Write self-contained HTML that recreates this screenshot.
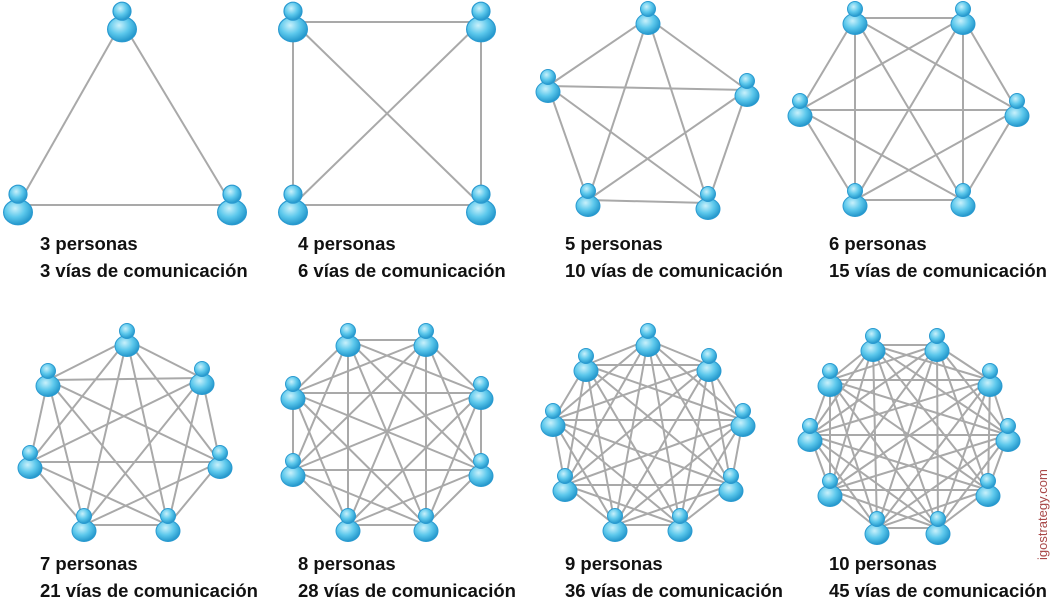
<!DOCTYPE html>
<html><head><meta charset="utf-8"><style>
html,body{margin:0;padding:0;background:#fff;width:1056px;height:604px;overflow:hidden}
svg{display:block}
text{font-family:"Liberation Sans",sans-serif}
</style></head><body>
<svg id="s" width="1056" height="604" xmlns="http://www.w3.org/2000/svg">
<defs>
<radialGradient id="g" cx="0.4" cy="0.35" r="0.7">
<stop offset="0" stop-color="#c9f1fb"/><stop offset="0.5" stop-color="#5cc8ec"/><stop offset="1" stop-color="#1a8fc6"/>
</radialGradient>
</defs>
<g id="lines" stroke="#a9a9a9" stroke-width="2"></g>
<g id="nodes"></g>
<g font-weight="bold" font-size="18.5" fill="#111">
<text x="40" y="250">3 personas</text><text x="40" y="277">3 vías de comunicación</text>
<text x="298" y="250">4 personas</text><text x="298" y="277">6 vías de comunicación</text>
<text x="565" y="250">5 personas</text><text x="565" y="277">10 vías de comunicación</text>
<text x="829" y="250">6 personas</text><text x="829" y="277">15 vías de comunicación</text>
<text x="40" y="570">7 personas</text><text x="40" y="597">21 vías de comunicación</text>
<text x="298" y="570">8 personas</text><text x="298" y="597">28 vías de comunicación</text>
<text x="565" y="570">9 personas</text><text x="565" y="597">36 vías de comunicación</text>
<text x="829" y="570">10 personas</text><text x="829" y="597">45 vías de comunicación</text>
</g>
<text transform="translate(1047,560) rotate(-90)" font-size="13" fill="#a84848">igostrategy.com</text>
</svg>
<script>
var G=[
[[122,22],[18,205],[232,205]],
[[293,22],[481,22],[293,205],[481,205]],
[[648,18],[548,86],[747,90],[588,200],[708,203]],
[[855,18],[963,18],[800,110],[1017,110],[855,200],[963,200]],
[[127,340],[48,380],[202,378],[30,462],[220,462],[84,525],[168,525]],
[[348,340],[426,340],[293,393],[481,393],[293,470],[481,470],[348,525],[426,525]],
[[648,340],[586,365],[709,365],[553,420],[743,420],[565,485],[731,485],[615,525],[680,525]],
[[873,345],[937,345],[830,380],[990,380],[810,435],[1008,435],[830,490],[988,490],[877,528],[938,528]]
];
var NS="http://www.w3.org/2000/svg",L=document.getElementById('lines'),N=document.getElementById('nodes');
G.forEach(function(g){
 var big=g.length<=4?1.2:1;
 for(var i=0;i<g.length;i++)for(var j=i+1;j<g.length;j++){
  var l=document.createElementNS(NS,'line');
  l.setAttribute('x1',g[i][0]);l.setAttribute('y1',g[i][1]);l.setAttribute('x2',g[j][0]);l.setAttribute('y2',g[j][1]);L.appendChild(l);}
 g.forEach(function(p){
  var gg=document.createElementNS(NS,'g');
  gg.setAttribute('transform','translate('+p[0]+','+p[1]+') scale('+big+')');
  gg.innerHTML='<ellipse cx="0" cy="6" rx="12" ry="10.5" fill="url(#g)" stroke="#2a9ad0" stroke-width="1"/><circle cx="0" cy="-9" r="7.5" fill="url(#g)" stroke="#2a9ad0" stroke-width="1"/>';
  N.appendChild(gg);});
});
</script>
</body></html>
